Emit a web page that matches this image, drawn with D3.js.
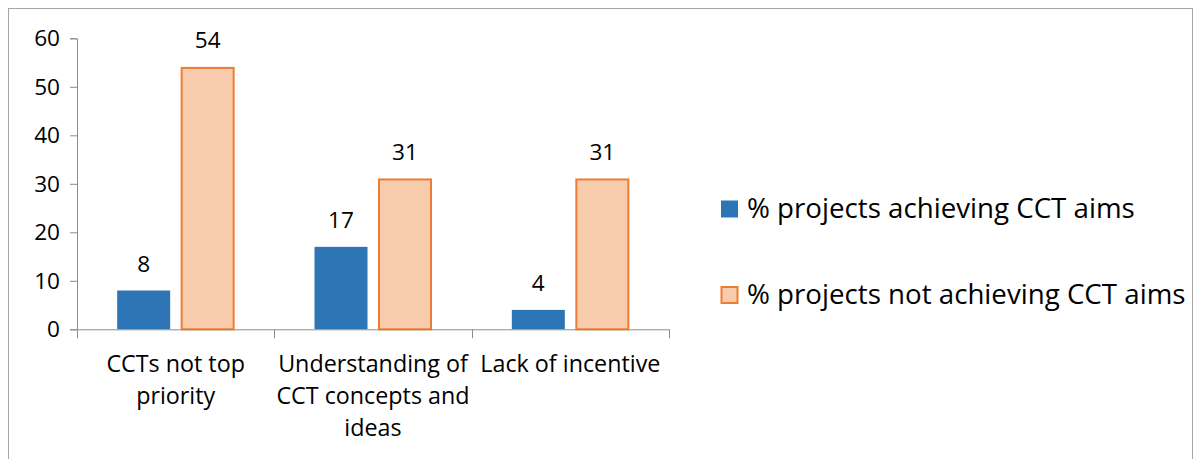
<!DOCTYPE html>
<html>
<head>
<meta charset="utf-8">
<script src="https://cdn.jsdelivr.net/npm/d3@7"></script>
<style>
  html, body { margin: 0; padding: 0; background: #fff; }
  svg { display: block; font-family: "Open Sans", Lato, sans-serif; }
</style>
</head>
<body>
<svg id="chart" width="1196" height="459"></svg>
<script>
// Reasons cited, split by whether the project achieved its CCT aims
const categories = [
  ["CCTs not top", "priority"],
  ["Understanding of", "CCT concepts and", "ideas"],
  ["Lack of incentive"]
];
const seriesNames = ["% projects achieving CCT aims", "% projects not achieving CCT aims"];
const achieving = [8, 17, 4];
const notAchieving = [54, 31, 31];
const yTicks = [0, 10, 20, 30, 40, 50, 60];

const svg = d3.select("#chart");
const numSize = 22.6, catSize = 23.3, legSize = 27.7;

// outer chart frame
svg.append("rect")
  .attr("x", 8.5).attr("y", 8.5)
  .attr("width", 1184).attr("height", 470)
  .attr("fill", "none").attr("stroke", "#a6a6a6").attr("stroke-width", 1);

const plot = { left: 77, right: 669, top: 38.3, bottom: 329.3 };

const x0 = d3.scaleBand()
  .domain(d3.range(categories.length))
  .range([plot.left, plot.right])
  .paddingInner(0).paddingOuter(0);

const y = d3.scaleLinear().domain([0, 60]).range([plot.bottom, plot.top]);

const barW = 53;
const offsets = [-32, 32];
const series = [
  { name: seriesNames[0], values: achieving, fill: "#2e75b6", stroke: "#2e75b6" },
  { name: seriesNames[1], values: notAchieving, fill: "#f8cbad", stroke: "#ed7d31" }
];

// y axis
const yAxis = d3.axisLeft(y).tickValues(yTicks).tickSize(7).tickPadding(10);
const gy = svg.append("g").attr("transform", `translate(${plot.left},0)`).call(yAxis);
gy.select(".domain").attr("stroke", "#8c8c8c");
gy.selectAll(".tick line").attr("stroke", "#8c8c8c");
gy.selectAll(".tick text").attr("font-size", numSize).attr("fill", "#000")
  .attr("font-family", "'Open Sans', sans-serif");

// bars
series.forEach((s, si) => {
  svg.append("g").selectAll("rect")
    .data(s.values)
    .join("rect")
    .attr("x", (d, i) => x0(i) + x0.bandwidth() / 2 + offsets[si] - barW / 2 + (si ? 0.5 : 0))
    .attr("y", d => y(d) + (si ? 0.5 : 0))
    .attr("width", barW - (si ? 1 : 0))
    .attr("height", d => y(0) - y(d) - (si ? 0.5 : 0))
    .attr("fill", s.fill)
    .attr("stroke", si ? s.stroke : "none")
    .attr("stroke-width", si ? 2 : 0);

  svg.append("g").selectAll("text")
    .data(s.values)
    .join("text")
    .attr("x", (d, i) => x0(i) + x0.bandwidth() / 2 + offsets[si])
    .attr("y", d => y(d) - 19)
    .attr("text-anchor", "middle")
    .attr("font-size", numSize)
    .attr("fill", "#000")
    .text(d => d);
});

// x axis baseline and category dividers
const gx = svg.append("g");
gx.append("line")
  .attr("x1", plot.left).attr("x2", plot.right)
  .attr("y1", plot.bottom + 0.5).attr("y2", plot.bottom + 0.5)
  .attr("stroke", "#8c8c8c");
const dividers = d3.range(categories.length + 1).map(i => i === categories.length ? plot.right : x0(i));
gx.selectAll("line.div")
  .data(dividers)
  .join("line").attr("class", "div")
  .attr("x1", d => Math.round(d) + 0.5).attr("x2", d => Math.round(d) + 0.5)
  .attr("y1", plot.bottom).attr("y2", plot.bottom + 9)
  .attr("stroke", "#8c8c8c");

// category labels, wrapped onto lines
categories.forEach((lines, i) => {
  const t = svg.append("text")
    .attr("text-anchor", "middle")
    .attr("font-size", catSize)
    .attr("fill", "#000");
  lines.forEach((ln, k) => {
    t.append("tspan")
      .attr("x", x0(i) + x0.bandwidth() / 2)
      .attr("y", 372 + k * 32)
      .text(ln);
  });
});

// legend
const legend = svg.append("g");
const legendRows = [209, 295];
series.forEach((s, si) => {
  const cy = legendRows[si];
  legend.append("rect")
    .attr("x", 721 + (si ? 0.5 : 0)).attr("y", cy - 8.5 + (si ? 0.5 : 0))
    .attr("width", 17 - (si ? 1 : 0)).attr("height", 17 - (si ? 1 : 0))
    .attr("fill", s.fill)
    .attr("stroke", si ? s.stroke : "none")
    .attr("stroke-width", si ? 2 : 0);
  legend.append("text")
    .attr("x", 747).attr("y", cy + 9)
    .attr("font-size", legSize)
    .attr("fill", "#000")
    .text(s.name);
});
</script>
</body>
</html>
